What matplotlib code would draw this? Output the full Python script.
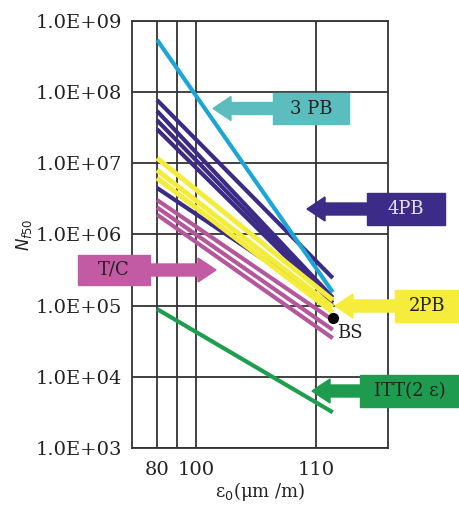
import numpy as np
import matplotlib
matplotlib.use("Agg")
import matplotlib.pyplot as plt
import matplotlib.transforms as mtransforms
from matplotlib.patches import Polygon, Rectangle

plt.rcParams['font.family'] = ['DejaVu Serif', 'DejaVu Sans']

# strain at start / end of each fatigue line
x_start = 80
x_end = 111.4

# fatigue lives (N at x_start, N at x_end)
pb3_start = [5.4e8]
pb3_end = [1.55e5]
pb4_start = [7.7e7, 5.4e7, 4.0e7, 3.0e7, 4.5e6]
pb4_end = [2.45e5, 1.3e5, 1.2e5, 1.1e5, 1.0e5]
pb2_start = [1.18e7, 8.0e6, 6.2e6]
pb2_end = [1.2e5, 9.6e4, 8.1e4]
tc_start = [3.05e6, 2.4e6, 1.9e6]
tc_end = [6.3e4, 4.6e4, 3.5e4]
itt_start = [9.0e4]
itt_end = [3.2e3]
bs_x = [111.4]
bs_n = [6.7e4]

x_ticks = [80, 100, 110]

fig = plt.figure(figsize=(4.6, 5.11), dpi=100)
ax = fig.add_axes([0.287, 0.1227, 0.5565, 0.8368])

# odd, non uniform strain axis of the original
brk_x = [0, 80, 90, 100, 110, 200]
brk_p = [-3, 157, 177, 196, 316, 1396]
def fwd(v):
    return np.interp(v, brk_x, brk_p)
def inv(p):
    return np.interp(p, brk_p, brk_x)
ax.set_xscale('function', functions=(fwd, inv))
ax.set_yscale('log')
ax.set_xlim(67.5, 116)
ax.set_ylim(1e3, 1e9)

def draw(starts, ends, color, lw=3):
    for s, e in zip(starts, ends):
        ax.plot([x_start, x_end], [s, e], color=color, lw=lw, solid_capstyle='butt', zorder=3)

draw(pb4_start, pb4_end, '#3b2a86')
draw(pb2_start, pb2_end, '#f4ec3a', lw=3.6)
draw(tc_start, tc_end, '#b5579b')
draw(pb3_start, pb3_end, '#1ba6d6')
draw(itt_start, itt_end, '#1f9e4f')
ax.plot(bs_x, bs_n, 'o', color='black', ms=7, zorder=4)

ax.set_xticks(x_ticks)
ax.set_xticks([90], minor=True)
ax.yaxis.set_major_locator(matplotlib.ticker.LogLocator(base=10, numticks=10))
ax.yaxis.set_minor_locator(matplotlib.ticker.NullLocator())
ax.yaxis.set_major_formatter(matplotlib.ticker.FuncFormatter(lambda v, p: f"{v:.1E}"))
ax.grid(which='both', axis='x', color='#333333', lw=1.3)
ax.grid(which='major', axis='y', color='#333333', lw=1.3)
ax.tick_params(which='both', length=0, labelsize=14, colors='#222222', pad=7)
ax.tick_params(axis='x', pad=9)
for sp in ax.spines.values():
    sp.set_color('#333333')
    sp.set_linewidth(1.3)

ax.set_xlabel('ε$_0$(μm /m)', fontsize=13, color='#222222', labelpad=1)
ax.set_ylabel('$N_{f50}$', fontsize=12, color='#222222', labelpad=1)

# labels with block arrows, in image pixel coordinates
pix = mtransforms.Affine2D().scale(1 / 460, -1 / 511).translate(0, 1) + fig.transFigure

def tag(text, x0, y0, x1, y1, tip, color, tcolor, side='left'):
    fig.add_artist(Rectangle((x0, y0), x1 - x0, y1 - y0, color=color, transform=pix, zorder=5))
    cy = (y0 + y1) / 2
    hl, hh, sh = 18, 12, 6
    if side == 'left':
        pts = [(tip, cy), (tip + hl, cy - hh), (tip + hl, cy - sh), (x0 + 1, cy - sh),
               (x0 + 1, cy + sh), (tip + hl, cy + sh), (tip + hl, cy + hh)]
    else:
        pts = [(tip, cy), (tip - hl, cy - hh), (tip - hl, cy - sh), (x1 - 1, cy - sh),
               (x1 - 1, cy + sh), (tip - hl, cy + sh), (tip - hl, cy + hh)]
    fig.add_artist(Polygon(pts, closed=True, color=color, transform=pix, zorder=5))
    fig.text((x0 + x1) / 2 / 460, 1 - cy / 511, text, color=tcolor, fontsize=13,
             ha='center', va='center', zorder=6)

tag('3 PB', 273, 93, 349, 124, 213, '#5bbdbd', '#222222')
tag('4PB', 367, 193, 445, 225, 307, '#3c2b87', '#e6e4f2')
tag('2PB', 395, 290, 460, 322, 335, '#f6ec3c', '#222222')
tag('ITT(2 ε)', 360, 375, 460, 407, 312, '#1e9b4f', '#222222')
tag('T/C', 78, 255, 150, 285, 216, '#c25aa4', '#222222', side='right')

ax.annotate('BS', (bs_x[0], bs_n[0]), xytext=(3, -14), textcoords='offset points',
            fontsize=13, color='#222222', zorder=6)

fig.savefig('out.png', dpi=100)
